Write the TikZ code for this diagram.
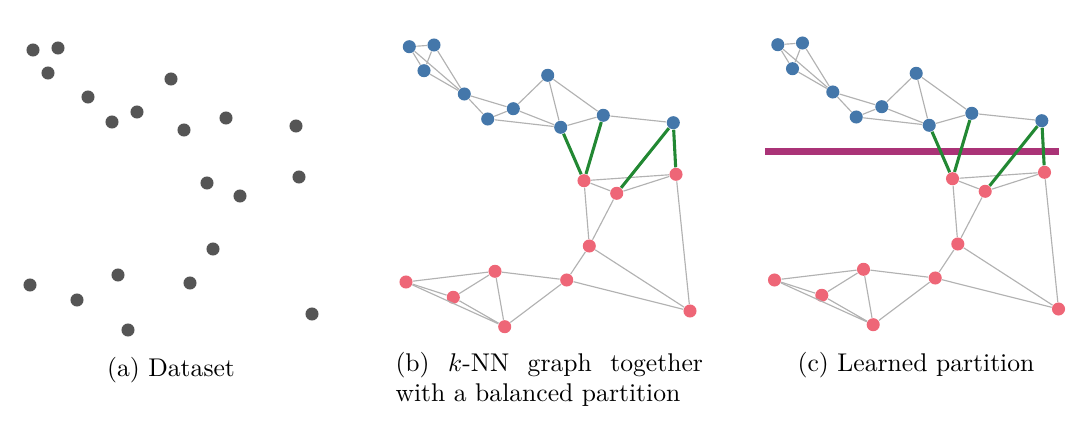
\documentclass[tikz,border=0pt]{standalone}
\usepackage{amsmath}
\usepackage{xcolor}
\usetikzlibrary{positioning}

\definecolor{ptblue}{HTML}{4477AA}
\definecolor{ptred}{HTML}{EE6677}
\definecolor{ptgreen}{HTML}{228833}
\definecolor{ptpurple}{HTML}{AA3377}
\definecolor{dotgray}{HTML}{555555}

\begin{document}
\begin{tikzpicture}[x=0.01372cm, y=-0.01372cm,
  point/.style={circle, inner sep=0pt, minimum size=5.1pt, fill=dotgray},
  upper/.style={circle, inner sep=0pt, minimum size=5.1pt, fill=ptblue},
  lower/.style={circle, inner sep=0pt, minimum size=5.1pt, fill=ptred},
  edge/.style={draw=black!30, line width=0.45pt},
  cut/.style={draw=ptgreen, line width=1.2pt},
  caption/.style={inner sep=0pt, font=\normalsize}]

\path[use as bounding box] (0,0) rectangle (1080,440);

% (a) the raw points
\node[point] (a1) at (33,50) {};
\node[point] (a2) at (58,48) {};
\node[point] (a3) at (48,73) {};
\node[point] (a4) at (88,97) {};
\node[point] (a5) at (171,79) {};
\node[point] (a6) at (137,112) {};
\node[point] (a7) at (112,122) {};
\node[point] (a8) at (184,130) {};
\node[point] (a9) at (226,118) {};
\node[point] (a10) at (296,126) {};
\node[point] (a11) at (207,183) {};
\node[point] (a12) at (240,196) {};
\node[point] (a13) at (299,177) {};
\node[point] (a14) at (213,249) {};
\node[point] (a15) at (118,275) {};
\node[point] (a16) at (190,283) {};
\node[point] (a17) at (30,285) {};
\node[point] (a18) at (77,300) {};
\node[point] (a19) at (128,330) {};
\node[point] (a20) at (312,314) {};

\node[caption, anchor=base] (capa) at (171,376) {(a) Dataset};

% learned split, under the cut edges of (c)
\draw[ptpurple, line width=2.6pt] (765,151.5) -- (1059,151.5);

% (b) and (c): the same graph twice
\foreach \p/\dx/\dy in {b/0/0, c/368.5/-2} {
  \begin{scope}[shift={(\dx,\dy)}]
  \node[upper] (\p u1) at (409.3,46.7) {};
  \node[upper] (\p u2) at (434,45) {};
  \node[upper] (\p u3) at (424,70.7) {};
  \node[upper] (\p u4) at (464.3,94) {};
  \node[upper] (\p u5) at (513.3,108.7) {};
  \node[upper] (\p u6) at (487.7,119) {};
  \node[upper] (\p u7) at (547.7,75.3) {};
  \node[upper] (\p u8) at (560.7,127.3) {};
  \node[upper] (\p u9) at (603.3,115.3) {};
  \node[upper] (\p u10) at (673.3,122.7) {};

  \node[lower] (\p r1) at (584,180.7) {};
  \node[lower] (\p r2) at (616.7,193.3) {};
  \node[lower] (\p r3) at (676,174.3) {};
  \node[lower] (\p r4) at (589.3,246) {};
  \node[lower] (\p r5) at (566.7,280) {};
  \node[lower] (\p r6) at (495,271.3) {};
  \node[lower] (\p r7) at (406,282) {};
  \node[lower] (\p r8) at (453.3,297.3) {};
  \node[lower] (\p r9) at (504.7,326.7) {};
  \node[lower] (\p r10) at (690,311) {};
  \end{scope}

  \draw[edge] (\p u1)--(\p u2)--(\p u3)--(\p u1)--(\p u4)--(\p u2);
  \draw[edge] (\p u3)--(\p u4)--(\p u5)--(\p u6)--(\p u4);
  \draw[edge] (\p u6)--(\p u8)--(\p u5)--(\p u7)--(\p u8)--(\p u9)--(\p u7);
  \draw[edge] (\p u9)--(\p u10);

  \draw[edge] (\p r1)--(\p r2)--(\p r3)--(\p r1)--(\p r4)--(\p r2);
  \draw[edge] (\p r4)--(\p r5)--(\p r10)--(\p r4);
  \draw[edge] (\p r3)--(\p r10);
  \draw[edge] (\p r5)--(\p r6)--(\p r7)--(\p r8)--(\p r6)--(\p r9)--(\p r5);
  \draw[edge] (\p r7)--(\p r9)--(\p r8);

  \draw[cut] (\p u8)--(\p r1)--(\p u9);
  \draw[cut] (\p u10)--(\p r2);
  \draw[cut] (\p u10)--(\p r3);
}

\node[caption, anchor=base west, text width=120pt, align=justify] (capb) at (395,371)
  {(b) $k$-NN graph together with a balanced partition};
\node[caption, anchor=base] (capc) at (916,371) {(c) Learned partition};

\end{tikzpicture}
\end{document}
